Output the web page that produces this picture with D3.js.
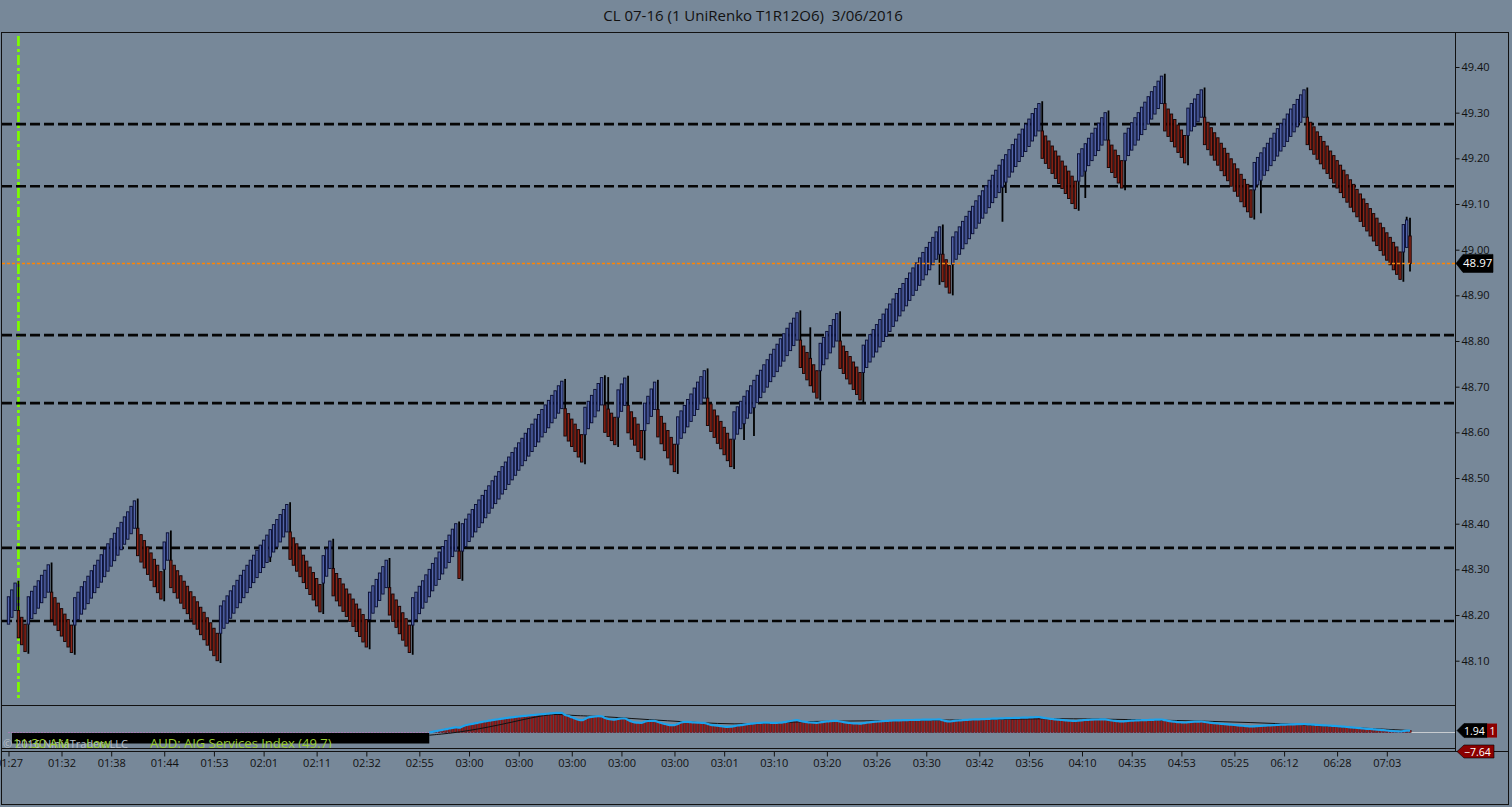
<!DOCTYPE html>
<html><head><meta charset="utf-8">
<script src="https://cdn.jsdelivr.net/npm/d3@7"></script>
<style>
html,body{margin:0;padding:0;background:#778899;overflow:hidden}
svg{display:block}
text{font-family:"Open Sans","Noto Sans",sans-serif}
</style></head><body>
<svg id="c" width="1512" height="807"></svg>
<script>
// ---------------- DATA ----------------
const title = "CL 07-16 (1 UniRenko T1R12O6)  3/06/2016";
// UniRenko bar closes (one per bar, left to right)
const closes = [
48.240,48.255,48.270,
48.150,48.135,48.120,
48.240,48.252,48.263,48.275,48.287,48.298,48.310,
48.190,48.178,48.166,48.154,48.142,48.130,48.118,
48.238,48.250,48.262,48.273,48.285,48.297,48.309,48.320,48.332,48.344,48.356,48.367,48.379,48.391,48.403,48.415,48.426,48.438,48.450,
48.330,48.316,48.303,48.289,48.276,48.262,48.249,48.235,
48.360,48.380,
48.260,48.249,48.237,48.226,48.214,48.203,48.191,48.180,48.169,48.157,48.146,48.134,48.123,48.111,48.100,
48.220,48.231,48.242,48.253,48.264,48.276,48.287,48.298,48.309,48.320,48.331,48.342,48.353,48.364,48.375,48.387,48.398,48.409,48.420,48.431,48.442,
48.322,48.309,48.296,48.284,48.271,48.258,48.245,48.233,48.220,48.207,
48.330,48.345,48.362,
48.242,48.231,48.220,48.208,48.197,48.186,48.175,48.164,48.153,48.141,48.130,
48.250,48.264,48.278,48.292,48.306,48.320,
48.200,48.186,48.173,48.159,48.145,48.132,48.118,
48.238,48.250,48.263,48.275,48.288,48.300,48.313,48.325,48.338,48.350,48.363,48.375,48.388,48.400,
48.280,
48.400,48.410,48.421,48.431,48.442,48.452,48.462,48.473,48.483,48.494,48.504,48.514,48.525,48.535,48.546,48.556,48.566,48.577,48.587,48.598,48.608,48.618,48.629,48.639,48.650,48.660,48.670,48.681,48.691,48.702,48.712,
48.592,48.581,48.569,48.558,48.546,48.535,
48.655,48.668,48.681,48.694,48.707,48.720,
48.600,48.591,48.582,48.573,
48.693,48.706,48.719,
48.599,48.585,48.572,48.558,48.544,
48.664,48.679,48.695,48.710,
48.590,48.575,48.560,48.544,48.529,48.514,
48.634,48.647,48.659,48.672,48.684,48.697,48.710,48.722,48.735,
48.615,48.602,48.589,48.576,48.564,48.551,48.538,48.525,
48.645,48.656,48.668,48.679,48.691,48.702,48.714,48.725,48.736,48.748,48.759,48.771,48.782,48.793,48.805,48.816,48.828,48.839,48.850,48.862,
48.742,48.729,48.715,48.702,48.688,48.675,
48.795,48.808,48.821,48.834,48.847,48.860,
48.740,48.729,48.717,48.706,48.694,48.683,48.671,
48.791,48.802,48.814,48.825,48.836,48.847,48.859,48.870,48.881,48.892,48.904,48.915,48.926,48.937,48.949,48.960,48.971,48.982,48.994,49.005,49.016,49.027,49.039,49.050,
48.930,48.918,48.905,
49.028,49.039,49.050,49.062,49.073,49.084,49.095,49.107,49.118,49.129,49.140,49.152,49.163,49.174,49.185,49.197,49.208,49.219,49.230,49.242,49.253,49.264,49.275,49.286,49.298,49.309,49.320,
49.200,49.189,49.178,49.167,49.156,49.145,49.134,49.123,49.112,49.101,49.090,
49.210,49.221,49.232,49.244,49.255,49.266,49.277,49.289,49.300,
49.180,49.169,49.158,49.146,49.135,
49.255,49.266,49.278,49.289,49.300,49.312,49.323,49.335,49.346,49.357,49.369,49.380,
49.260,49.248,49.237,49.225,49.213,49.202,49.190,
49.310,49.320,49.330,49.340,49.350,
49.230,49.219,49.207,49.196,49.185,49.173,49.162,49.151,49.139,49.128,49.117,49.105,49.094,49.083,49.071,
49.191,49.202,49.212,49.223,49.233,49.244,49.255,49.265,49.276,49.286,49.297,49.308,49.318,49.329,49.339,49.350,
49.230,49.219,49.209,49.198,49.188,49.177,49.167,49.156,49.146,49.135,49.125,49.114,49.104,49.093,49.083,49.072,49.062,49.051,49.041,49.030,49.019,49.009,48.998,48.988,48.977,48.967,48.956,48.946,48.935,
49.055,49.065,
48.970
];
const bodyOffset = 0.06;            // UniRenko O6 (6 ticks)
const extraWicks = [[72,48.255],[79,48.316],[181,48.721],[222,48.583],[225,48.592],[242,48.830],
  [281,48.923],[300,49.061],[301,49.124],[325,49.113],[378,49.080],[422,49.072],[423,48.952]];
const levels = [49.275, 49.139, 48.813, 48.664, 48.347, 48.187];
const lastPrice = 48.97;
const sessionBreakBar = 3;
const priceTicks = [48.10,48.20,48.30,48.40,48.50,48.60,48.70,48.80,48.90,49.00,49.10,49.20,49.30,49.40];
const timeLabels = ["01:27","01:32","01:38","01:44","01:53","02:01","02:11","02:32","02:55","03:00","03:00","03:00","03:00","03:00",
  "03:01","03:10","03:20","03:26","03:30","03:42","03:56","04:10","04:35","04:53","05:25","06:12","06:28","07:03"];
const timeLabelBars = [0,16,31,47,62,77,93,108,124,139,154,170,185,201,216,231,247,262,277,293,308,324,339,354,370,385,401,416];
// lower indicator
const oscStart = 127;
const oscValues = [
0.0,0.6,1.3,2.0,2.7,3.3,4.0,4.6,5.2,4.8,
6.0,7.3,8.0,8.7,9.4,10.0,10.7,11.2,11.8,12.3,
12.8,13.3,13.8,14.3,14.8,15.2,15.6,16.0,16.4,16.7,
17.0,17.3,17.7,18.0,18.3,18.6,18.9,19.2,19.5,19.7,
19.6,17.5,16.6,15.2,14.0,12.8,12.3,13.5,15.0,15.7,
16.0,16.3,16.2,14.5,13.5,13.0,12.8,13.6,14.0,14.0,
12.5,11.0,10.2,9.8,9.7,10.8,11.5,11.7,11.6,10.5,
9.5,8.6,7.8,7.3,7.4,8.5,10.0,10.7,10.6,10.3,
10.0,9.8,9.7,9.6,8.6,7.6,7.2,6.8,6.3,5.9,
5.7,5.8,6.4,7.0,7.3,7.8,8.3,8.8,9.2,9.5,
9.7,9.8,9.8,9.7,9.6,9.7,9.8,10.3,10.9,11.5,
12.0,12.3,11.5,10.8,10.3,10.0,9.8,9.7,10.2,10.7,
11.1,11.4,11.6,11.7,11.0,10.4,9.9,9.5,9.2,9.0,
8.9,9.4,9.8,10.2,10.6,10.9,11.2,11.4,11.6,11.8,
12.0,12.1,12.2,12.3,12.4,12.5,12.5,12.6,12.7,12.8,
12.8,12.9,13.0,13.0,13.1,12.2,11.4,11.0,11.4,11.8,
12.1,12.4,12.6,12.8,13.0,13.1,13.2,13.4,13.5,13.7,
13.8,13.9,14.0,14.2,14.3,14.4,14.5,14.6,14.7,14.8,
14.9,15.0,15.1,15.3,15.5,14.8,14.3,13.9,13.5,13.1,
12.8,12.5,12.2,11.9,11.7,11.5,11.9,12.2,12.5,12.7,
12.9,13.0,13.0,13.1,13.1,12.5,12.0,11.6,11.3,11.0,
11.3,11.6,11.8,12.0,12.2,12.3,12.4,12.5,12.6,12.8,
12.9,13.0,12.3,11.7,11.2,10.8,10.4,10.2,10.0,10.3,
10.6,10.8,10.9,11.0,10.5,10.1,9.7,9.3,9.0,8.7,
8.4,8.1,7.8,7.5,7.2,6.9,6.6,6.3,6.0,6.2,
6.4,6.6,6.8,7.0,7.2,7.4,7.6,7.8,7.9,8.0,
8.1,8.2,8.3,8.4,8.5,8.2,8.0,7.8,7.6,7.4,
7.2,7.0,6.8,6.6,6.4,6.1,5.8,5.5,5.2,4.9,
4.6,4.3,4.0,3.7,3.5,3.2,2.9,2.6,2.3,2.0,
1.7,1.4,1.2,1.0,1.4,1.8,1.94
];
const oscSignalBars = [127,136,148,158,165,169,178,188,199,209,219,229,239,254,269,284,299,314,329,345,360,375,390,405,423];
const oscSignalVals = [-2.7,0,7.3,15,19,17,16.3,14,11.7,9.7,8.3,9,11,11.5,12,12.5,13,14,13.5,12.5,11.5,10,8,5,2];
const oscLast = 1.94, oscLow = -7.64, oscCount = "1";
const infoTexts = [["11:30 AM",13],["Low",86],["AUD: AIG Services Index (49.7)",150]];

// ---------------- DRAW ----------------
const W=1512,H=807;
const svg=d3.select("#c");
const plotL=2, plotR=1455.5, plotT=33, plotB=705.5, oscT=706, oscB=748;
const FONT='"Open Sans","Noto Sans",sans-serif';

svg.append("rect").attr("width",W).attr("height",H).attr("fill","#778899");

svg.append("text").attr("x",753).attr("y",21).attr("text-anchor","middle")
  .style("font-size","15px").style("white-space","pre").attr("fill","#111").text(title);

const defs=svg.append("defs");
defs.append("clipPath").attr("id","mainClip").append("rect")
  .attr("x",plotL).attr("y",plotT).attr("width",plotR-plotL).attr("height",plotB-plotT);
defs.append("clipPath").attr("id","oscClip").append("rect")
  .attr("x",plotL).attr("y",oscT).attr("width",plotR-plotL).attr("height",oscB-oscT);

const x=d3.scaleLinear().domain([0,closes.length-1]).range([8.5,1410]);
const y=d3.scaleLinear().domain([48.10,49.40]).range([660.7,67]);

const main=svg.append("g").attr("clip-path","url(#mainClip)");
main.append("line").attr("x1",x(sessionBreakBar)).attr("x2",x(sessionBreakBar)).attr("y1",36).attr("y2",701)
  .attr("stroke","#7cfc00").attr("stroke-width",2.8).attr("stroke-dasharray","10,3,3,3");
main.selectAll("line.lvl").data(levels).join("line").attr("class","lvl")
  .attr("x1",plotL).attr("x2",plotR).attr("y1",d=>y(d)).attr("y2",d=>y(d))
  .attr("stroke","#050505").attr("stroke-width",2.6).attr("stroke-dasharray","10,4");

const bars=closes.map((c,i)=>{const dir=i===0?1:(c>closes[i-1]?1:-1);return {i,c,dir,o:c-dir*bodyOffset};});
bars.forEach((b,i)=>{b.rev=i>0&&b.dir!==bars[i-1].dir;b.prev=i>0?closes[i-1]:b.c;});

// reversal wicks (to previous close)
main.selectAll("line.rw").data(bars.filter(b=>b.rev)).join("line").attr("class","rw")
  .attr("x1",b=>x(b.i)).attr("x2",b=>x(b.i))
  .attr("y1",b=>y(b.o)).attr("y2",b=>y(b.prev+b.dir*-0.005))
  .attr("stroke","#000").attr("stroke-width",1.8);
main.selectAll("line.xw").data(extraWicks).join("line").attr("class","xw")
  .attr("x1",d=>x(d[0])).attr("x2",d=>x(d[0]))
  .attr("y1",d=>y(d[1])).attr("y2",d=>y(closes[d[0]]))
  .attr("stroke","#000").attr("stroke-width",1.8);
main.selectAll("rect.bar").data(bars).join("rect").attr("class","bar")
  .attr("x",b=>x(b.i)-1.2).attr("width",2.4)
  .attr("y",b=>y(Math.max(b.o,b.c))).attr("height",b=>Math.abs(y(b.o)-y(b.c)))
  .attr("fill",b=>b.dir>0?"#5466ab":"#8c2417")
  .attr("stroke",b=>b.dir>0?"#0a0f35":"#160404").attr("stroke-width",0.95);

main.append("line").attr("x1",plotL).attr("x2",plotR).attr("y1",y(lastPrice)).attr("y2",y(lastPrice))
  .attr("stroke","#ff8400").attr("stroke-width",1.5).attr("stroke-dasharray","3,2");

// ---- lower indicator ----
const oy=d3.scaleLinear().domain([0,20]).range([732.5,712.5]);
const osc=svg.append("g").attr("clip-path","url(#oscClip)");
osc.append("line").attr("x1",x(0)).attr("x2",x(closes.length-1)).attr("y1",oy(0)).attr("y2",oy(0))
  .attr("stroke","#d070c8").attr("stroke-width",1).attr("stroke-dasharray","1,2");
osc.append("line").attr("x1",x(closes.length-1)).attr("x2",plotR).attr("y1",oy(0)).attr("y2",oy(0))
  .attr("stroke","#c8ccd0").attr("stroke-width",1);
osc.append("rect").attr("x",12).attr("y",733).attr("width",x(oscStart)-12).attr("height",10.5).attr("fill","#000");
osc.append("text").attr("x",3).attr("y",747.5).attr("fill","#b9c1c9").style("font-size","11px").text("© 2016 NinjaTrader, LLC");
osc.selectAll("text.info").data(infoTexts).join("text").attr("class","info")
  .attr("x",d=>d[1]).attr("y",748).attr("fill","#9acd32").style("font-size","13px").text(d=>d[0]);
osc.selectAll("rect.h").data(oscValues).join("rect").attr("class","h")
  .attr("x",(d,k)=>x(oscStart+k)-1.2).attr("width",2.4)
  .attr("y",d=>oy(Math.max(0,d))).attr("height",d=>Math.abs(oy(d)-oy(0)))
  .attr("fill","#951c1c").attr("stroke","#3a0a0a").attr("stroke-width",0.5);
osc.append("path").datum(oscSignalBars.map((b,k)=>[b,oscSignalVals[k]]))
  .attr("d",d3.line().x(d=>x(d[0])).y(d=>oy(d[1])).curve(d3.curveBasis))
  .attr("fill","none").attr("stroke","#111").attr("stroke-width",1);
osc.append("path").datum(oscValues)
  .attr("d",d3.line().x((d,k)=>x(oscStart+k)).y(d=>oy(d)).curve(d3.curveMonotoneX))
  .attr("fill","none").attr("stroke","#1fa3ea").attr("stroke-width",2.2);

// ---- frame & axes ----
const fr=svg.append("g").attr("stroke","#111").attr("stroke-width",1).attr("fill","none");
fr.append("rect").attr("x",1.5).attr("y",32.5).attr("width",1507).attr("height",772);
fr.append("line").attr("x1",plotR).attr("x2",plotR).attr("y1",32.5).attr("y2",751.5);
fr.append("line").attr("x1",1.5).attr("x2",plotR).attr("y1",plotB).attr("y2",plotB);
fr.append("line").attr("x1",1.5).attr("x2",plotR).attr("y1",748.5).attr("y2",748.5);
fr.append("line").attr("x1",1.5).attr("x2",1508.5).attr("y1",751.5).attr("y2",751.5);

const ga=svg.append("g").attr("transform",`translate(${plotR},0)`)
  .call(d3.axisRight(y).tickValues(priceTicks).tickFormat(d3.format(".2f")).tickSize(4).tickPadding(2));
ga.select(".domain").remove();
ga.selectAll("line").attr("stroke","#111");
ga.selectAll("text").attr("fill","#111").attr("font-family",FONT).style("font-size","11px");

const gx=svg.append("g").attr("transform","translate(0,751.5)")
  .call(d3.axisBottom(x).tickValues(timeLabelBars).tickFormat((d,k)=>timeLabels[k]).tickSize(5).tickPadding(3));
gx.select(".domain").remove();
gx.selectAll("line").attr("stroke","#111");
gx.selectAll("text").attr("fill","#111").attr("font-family",FONT).style("font-size","11px");

// ---- value markers ----
function marker(yv,x0,x1,h,fill,label,fs){
  const g=svg.append("g");
  g.append("path").attr("d",`M${x0},${yv} L${x0+7},${yv-h/2} L${x1},${yv-h/2} L${x1},${yv+h/2} L${x0+7},${yv+h/2} Z`)
    .attr("fill",fill).attr("stroke","#000").attr("stroke-width",0.6);
  g.append("text").attr("x",x0+7).attr("y",yv+4).attr("fill","#fff").style("font-size",fs+"px").text(label);
}
marker(y(lastPrice),1456,1493,18,"#000",d3.format(".2f")(lastPrice),11.5);
marker(oy(oscLast),1457,1487,14,"#000",d3.format(".2f")(oscLast),10.5);
svg.append("rect").attr("x",1487).attr("y",oy(oscLast)-7).attr("width",10).attr("height",14).attr("fill","#8b0000");
svg.append("text").attr("x",1489.5).attr("y",oy(oscLast)+4).attr("fill","#fff").style("font-size","10.5px").text(oscCount);
// lower value sits below the panel range: marker pinned at the panel's lower edge
marker(oscB+3.5,1457,1494,13,"#8b0000",d3.format(".2f")(oscLow),10.5);
</script>
</body></html>
